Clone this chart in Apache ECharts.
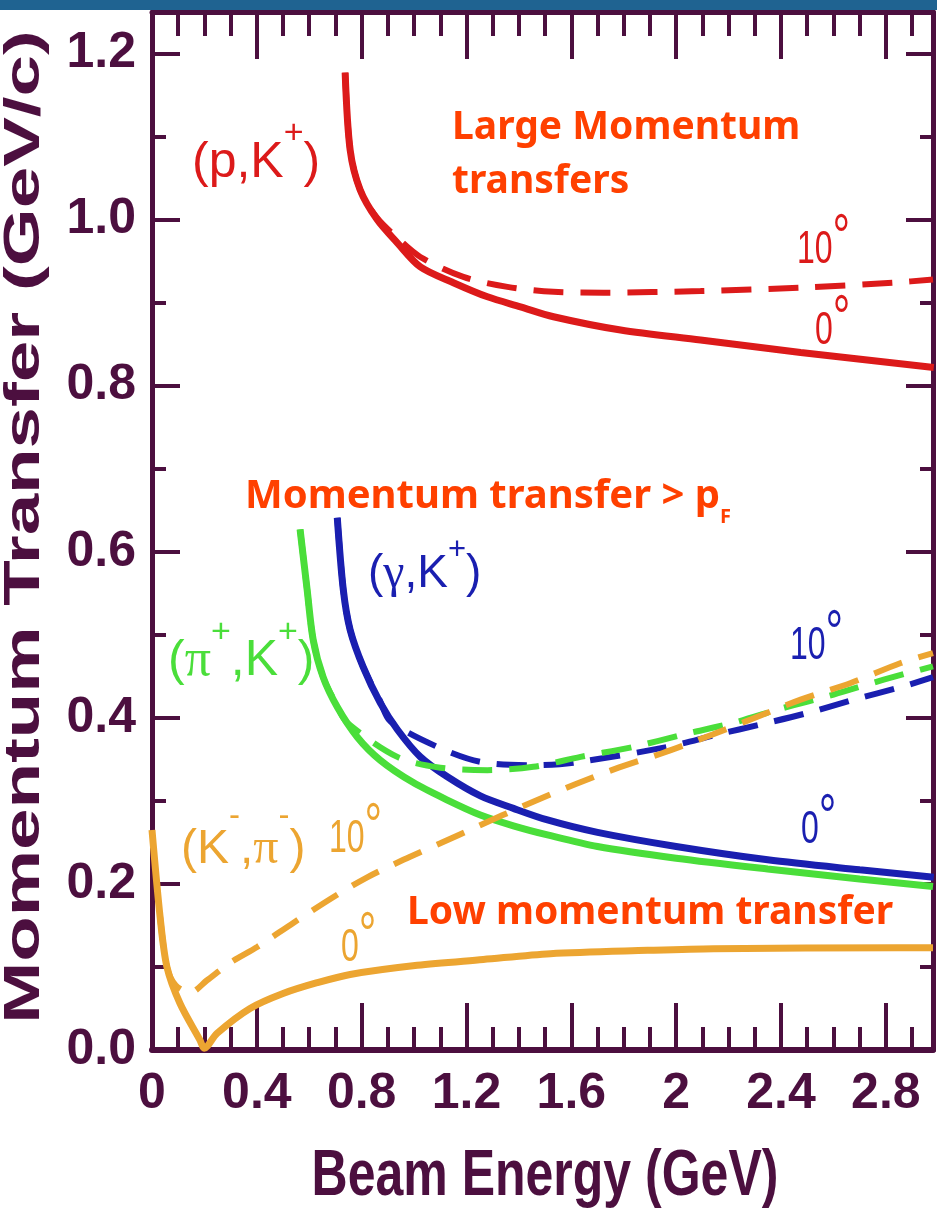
<!DOCTYPE html>
<html>
<head>
<meta charset="utf-8">
<script src="https://cdn.jsdelivr.net/npm/echarts@6/dist/echarts.min.js"></script>
<style>html,body{margin:0;padding:0;background:#fff;}#c{width:937px;height:1220px;}</style>
</head>
<body>
<div id="c"></div>
<script>
// ---- tick labels ----
const xTicks = [0, 0.4, 0.8, 1.2, 1.6, 2.0, 2.4, 2.8];
const xTickLabels = ['0', '0.4', '0.8', '1.2', '1.6', '2', '2.4', '2.8'];
const yTicks = [0, 0.2, 0.4, 0.6, 0.8, 1.0, 1.2];
const yTickLabels = ['0.0', '0.2', '0.4', '0.6', '0.8', '1.0', '1.2'];

// ---- curves: [beam energy GeV, momentum transfer GeV/c] ----
const pK_0deg = [[0.737,1.177],[0.756,1.084],[0.794,1.036],[0.859,1.000],[0.936,0.972],[1.024,0.943],[1.150,0.924],[1.280,0.907],[1.406,0.895],[1.532,0.883],[1.788,0.867],[2.093,0.855],[2.475,0.840],[2.983,0.822]];
const pK_10deg = [[0.737,1.177],[0.756,1.084],[0.794,1.036],[0.859,1.002],[0.936,0.978],[1.024,0.955],[1.188,0.931],[1.356,0.919],[1.532,0.913],[1.723,0.912],[2.093,0.914],[2.475,0.918],[2.830,0.924],[2.980,0.928]];
const piK_0deg = [[0.565,0.627],[0.592,0.554],[0.615,0.494],[0.653,0.449],[0.707,0.413],[0.783,0.377],[0.871,0.349],[0.997,0.322],[1.127,0.301],[1.253,0.283],[1.379,0.270],[1.509,0.259],[1.700,0.245],[2.000,0.231],[2.349,0.218],[2.700,0.206],[2.980,0.197]];
const piK_10deg = [[0.565,0.627],[0.592,0.554],[0.615,0.494],[0.653,0.449],[0.707,0.414],[0.745,0.394],[0.936,0.353],[1.100,0.340],[1.280,0.337],[1.455,0.341],[1.635,0.353],[1.837,0.365],[2.028,0.380],[2.219,0.394],[2.410,0.412],[2.601,0.428],[2.792,0.446],[2.980,0.462]];
const gK_0deg = [[0.707,0.641],[0.730,0.554],[0.756,0.506],[0.806,0.461],[0.871,0.418],[0.936,0.386],[1.024,0.353],[1.127,0.329],[1.253,0.306],[1.379,0.291],[1.509,0.277],[1.700,0.262],[2.000,0.245],[2.349,0.229],[2.700,0.217],[2.983,0.208]];
const gK_10deg = [[0.707,0.641],[0.730,0.554],[0.756,0.506],[0.806,0.461],[0.871,0.420],[0.909,0.396],[1.089,0.365],[1.253,0.347],[1.455,0.343],[1.608,0.346],[1.967,0.365],[2.158,0.380],[2.322,0.392],[2.502,0.406],[2.678,0.422],[2.857,0.437],[2.980,0.449]];
const Kpi_0deg = [[0.000,0.265],[0.031,0.160],[0.057,0.100],[0.107,0.056],[0.183,0.012],[0.199,0.002],[0.248,0.020],[0.374,0.050],[0.500,0.068],[0.630,0.081],[0.756,0.091],[1.012,0.102],[1.264,0.109],[1.520,0.116],[1.891,0.120],[2.143,0.122],[2.846,0.123],[2.980,0.123]];
const Kpi_10deg = [[0.031,0.160],[0.057,0.100],[0.090,0.078],[0.145,0.069],[0.210,0.084],[0.298,0.105],[0.401,0.124],[0.539,0.153],[0.691,0.184],[0.821,0.208],[0.959,0.229],[1.100,0.249],[1.241,0.269],[1.432,0.296],[1.615,0.320],[1.780,0.340],[1.952,0.358],[2.139,0.380],[2.284,0.398],[2.475,0.422],[2.666,0.442],[2.857,0.466],[2.980,0.478]];

// ---- styles ----
const AX = '#4c0f3f';
const RED = '#dc1a1a', GREEN = '#4ade3a', BLUE = '#1a1fb0', ORANGE = '#eca531', NOTE = '#ff4000';
const AXFONT = "'Liberation Sans', Arial, Helvetica, sans-serif";
const SANS = "'Liberation Sans', Arial, Helvetica, sans-serif";
const SERIF = "'Liberation Serif', 'DejaVu Serif', serif";
const NOTEFONT = "'Comic Sans MS', 'Noto Sans', 'Open Sans', sans-serif";

function labelFrom(ticks, labels) {
  return function (v) {
    for (let i = 0; i < ticks.length; i++) if (Math.abs(v - ticks[i]) < 1e-6) return labels[i];
    return '';
  };
}

const XMIN = 0, XMAX = 2.98, YMIN = 0, YMAX = 1.25;

function xAx(pos, interval, len, showLine, showLabel) {
  return {
    type: 'value', position: pos, min: XMIN, max: XMAX, interval: interval,
    axisLine: { show: showLine, onZero: false, lineStyle: { color: AX, width: pos === 'bottom' ? 6 : 5 } },
    axisTick: { show: true, inside: true, length: len, lineStyle: { color: AX, width: 4 } },
    axisLabel: showLabel ? { show: true, formatter: labelFrom(xTicks, xTickLabels), color: AX, fontFamily: AXFONT, fontWeight: 'bold', fontSize: 50, margin: 19 } : { show: false },
    splitLine: { show: false }
  };
}
function yAx(pos, interval, len, showLine, showLabel) {
  return {
    type: 'value', position: pos, min: YMIN, max: YMAX, interval: interval,
    axisLine: { show: showLine, onZero: false, lineStyle: { color: AX, width: 5 } },
    axisTick: { show: true, inside: true, length: len, lineStyle: { color: AX, width: 4 } },
    axisLabel: showLabel ? { show: true, formatter: labelFrom(yTicks, yTickLabels), color: AX, fontFamily: AXFONT, fontWeight: 'bold', fontSize: 50, margin: 16 } : { show: false },
    splitLine: { show: false }
  };
}

function curve(name, data, color, dashed, z) {
  return {
    name: name, type: 'line', data: data, xAxisIndex: 0, yAxisIndex: 0,
    showSymbol: false, symbol: 'none', smooth: 0.3, silent: true, z: z,
    lineStyle: { color: color, width: dashed ? 6 : 7, type: dashed ? [30, 17] : 'solid', cap: 'butt' }
  };
}

function txt(x, y, text, o) {
  o = o || {};
  return {
    type: 'text', x: x, y: y, z: 20,
    rotation: o.rotation || 0, scaleX: o.sx || 1, scaleY: o.sy || 1,
    style: {
      text: text, fill: o.fill, fontSize: o.size, fontFamily: o.family || SANS, fontWeight: o.weight || 'normal',
      align: o.align || 'left', verticalAlign: 'middle', textAlign: o.align || 'left', textVerticalAlign: 'middle',
      lineHeight: o.lh, rich: o.rich
    }
  };
}

function reaction(x, y, text, color, size, supOff) {
  const sup = Math.round(size * 0.68);
  return txt(x, y, text, {
    fill: color, size: size,
    rich: {
      m: { fill: color, fontSize: size, fontFamily: SANS, lineHeight: 2 * (supOff + sup / 2) },
      g: { fill: color, fontSize: size + 2, fontFamily: SERIF },
      s: { fill: color, fontSize: sup, fontFamily: SANS, verticalAlign: 'top' }
    }
  });
}

function degree(x, y, num, color) {
  return txt(x, y, '{n|' + num + '}{d|°}', {
    fill: color, size: 32, sy: 1.45,
    rich: {
      n: { fill: color, fontSize: 32, fontFamily: SANS, lineHeight: 57 },
      d: { fill: color, fontSize: 44, fontFamily: SANS, verticalAlign: 'top' }
    }
  });
}

const chart = echarts.init(document.getElementById('c'), null, { renderer: 'canvas', width: 937, height: 1220 });
chart.setOption({
  animation: false,
  backgroundColor: '#ffffff',
  grid: { left: 152, right: 4, top: 12, bottom: 170, containLabel: false },
  xAxis: [
    xAx('bottom', 0.4, 47, true, true),
    xAx('bottom', 0.1, 23, false, false),
    xAx('top', 0.4, 47, true, false),
    xAx('top', 0.1, 24, false, false)
  ],
  yAxis: [
    yAx('left', 0.2, 28, true, true),
    yAx('left', 0.1, 14, false, false),
    yAx('right', 0.2, 27, true, false),
    yAx('right', 0.1, 13, false, false)
  ],
  series: [
    curve('(p,K+) 0°', pK_0deg, RED, false, 3),
    curve('(p,K+) 10°', pK_10deg, RED, true, 3),
    curve('(π+,K+) 0°', piK_0deg, GREEN, false, 3),
    curve('(γ,K+) 0°', gK_0deg, BLUE, false, 4),
    curve('(γ,K+) 10°', gK_10deg, BLUE, true, 5),
    curve('(π+,K+) 10°', piK_10deg, GREEN, true, 6),
    curve('(K-,π-) 0°', Kpi_0deg, ORANGE, false, 6),
    curve('(K-,π-) 10°', Kpi_10deg, ORANGE, true, 7)
  ],
  graphic: { elements: [
    { type: 'rect', shape: { x: 0, y: 0, width: 937, height: 10 }, style: { fill: '#1f6391' }, z: 30 },
    // axis titles
    txt(25, 527, 'Momentum Transfer (GeV/c)', { fill: AX, size: 50, weight: 'bold', align: 'center', rotation: Math.PI / 2, sx: 1.49 }),
    txt(545, 1177, 'Beam Energy (GeV)', { fill: AX, size: 50, weight: 'bold', align: 'center', sy: 1.31 }),
    // annotations
    txt(452, 155, 'Large Momentum\ntransfers', { fill: NOTE, size: 39, weight: 'bold', family: NOTEFONT, lh: 54 }),
    txt(245, 497, '{a|Momentum transfer > p}{b|F}', { fill: NOTE, size: 40, weight: 'bold', family: NOTEFONT,
      rich: { a: { fill: NOTE, fontSize: 40, fontWeight: 'bold', fontFamily: NOTEFONT, lineHeight: 60 },
              b: { fill: NOTE, fontSize: 20, fontWeight: 'bold', fontFamily: NOTEFONT, verticalAlign: 'bottom' } } }),
    txt(407, 913, 'Low momentum transfer', { fill: NOTE, size: 39, weight: 'bold', family: NOTEFONT }),
    // reaction labels
    reaction(192, 163, '{m|(p,K}{s|+}{m|)}', RED, 50, 29),
    reaction(368, 574, '{m|(}{g|γ}{m|,K}{s|+}{m|)}', BLUE, 46, 24),
    reaction(168, 661, '{m|(}{g|π}{s|+}{m|,K}{s|+}{m|)}', GREEN, 50, 28),
    reaction(181, 850, '{m|(K}{s|-}{m|,}{g|π}{s|-}{m|)}', ORANGE, 48, 33),
    // angle labels
    degree(797, 250, '10', RED),
    degree(815, 331, '0', RED),
    degree(790, 646, '10', BLUE),
    degree(801, 830, '0', BLUE),
    degree(329, 839, '10', ORANGE),
    degree(341, 948, '0', ORANGE)
  ] }
});
</script>
</body>
</html>
